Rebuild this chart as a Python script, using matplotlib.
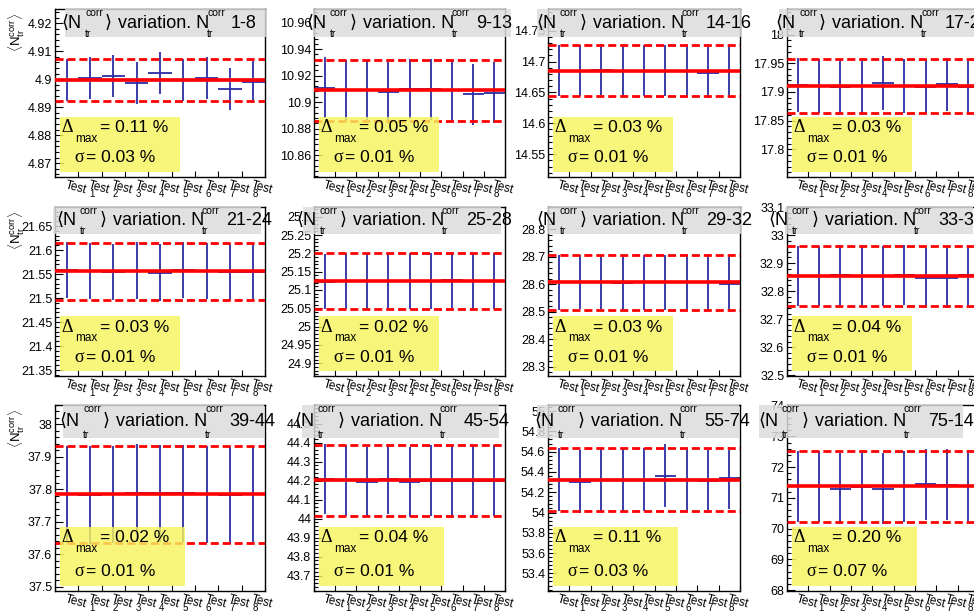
import numpy as np
import matplotlib
matplotlib.use('Agg')
import matplotlib.pyplot as plt
from matplotlib.patches import Rectangle
from matplotlib.ticker import MultipleLocator, AutoMinorLocator, FuncFormatter

plt.rcParams['font.family'] = ['Liberation Sans', 'DejaVu Sans']
plt.rcParams['mathtext.fontset'] = 'custom'
plt.rcParams['mathtext.rm'] = 'Liberation Sans'

# bins on the x axis
tests = ['Test', 'Test_1', 'Test_2', 'Test_3', 'Test_4', 'Test_5', 'Test_6', 'Test_7', 'Test_8']

# N_tr^corr ranges (one pad each)
ranges = ['1-8', '9-13', '14-16', '17-20', '21-24', '25-28',
          '29-32', '33-38', '39-44', '45-54', '55-74', '75-140']

# <N_tr^corr> per test
v_1_8 = [4.8998, 4.9005, 4.9010, 4.8988, 4.9021, 4.8998, 4.9003, 4.8966, 4.8989]
v_9_13 = [10.911, 10.9088, 10.909, 10.9073, 10.910, 10.9095, 10.9088, 10.9058, 10.907]
v_14_16 = [14.685, 14.685, 14.6866, 14.684, 14.685, 14.685, 14.685, 14.682, 14.684]
v_17_20 = [17.912, 17.911, 17.909, 17.910, 17.915, 17.911, 17.908, 17.913, 17.909]
v_21_24 = [21.558, 21.556, 21.554, 21.557, 21.553, 21.558, 21.556, 21.554, 21.555]
v_25_28 = [25.123, 25.125, 25.124, 25.124, 25.124, 25.125, 25.127, 25.124, 25.125]
v_29_32 = [28.607, 28.608, 28.608, 28.606, 28.607, 28.607, 28.607, 28.607, 28.601]
v_33_38 = [32.853, 32.853, 32.859, 32.853, 32.853, 32.859, 32.846, 32.847, 32.858]
v_39_44 = [37.785, 37.783, 37.785, 37.789, 37.788, 37.788, 37.785, 37.782, 37.785]
v_45_54 = [44.207, 44.201, 44.191, 44.208, 44.191, 44.200, 44.200, 44.200, 44.200]
v_55_74 = [54.325, 54.303, 54.325, 54.325, 54.325, 54.362, 54.325, 54.309, 54.340]
v_75_140 = [71.37, 71.37, 71.30, 71.35, 71.30, 71.37, 71.45, 71.42, 71.40]

means = [4.8998, 10.9088, 14.685, 17.911, 21.5554, 25.1245,
         28.607, 32.853, 37.785, 44.201, 54.325, 71.37]
errs = [0.0075, 0.0229, 0.041, 0.047, 0.059, 0.076,
        0.100, 0.107, 0.150, 0.185, 0.310, 1.155]
delta_max = ['0.11', '0.05', '0.03', '0.03', '0.03', '0.02',
             '0.03', '0.04', '0.02', '0.04', '0.11', '0.20']
sigma = ['0.03', '0.01', '0.01', '0.01', '0.01', '0.01',
         '0.01', '0.01', '0.01', '0.01', '0.03', '0.07']
ylims = [(4.8651, 4.9251), (10.8434, 10.9703), (14.513, 14.785), (17.7517, 18.0446),
         (21.3375, 21.6896), (24.865, 25.3265), (28.266, 28.881), (32.497, 33.10),
         (37.487, 38.06), (43.619, 44.598), (53.226, 55.06), (67.97, 74.02)]
steps = [0.01, 0.02, 0.05, 0.05, 0.05, 0.05, 0.1, 0.1, 0.1, 0.1, 0.2, 1.0]

values = [v_1_8, v_9_13, v_14_16, v_17_20, v_21_24, v_25_28,
          v_29_32, v_33_38, v_39_44, v_45_54, v_55_74, v_75_140]

# canvas layout in pixels
W, H = 974, 612
cols = [(55, 265), (314, 505), (548, 740), (787, 979)]
rows = [(9, 177), (207, 376), (405, 591)]
title_rows = [(9, 37), (207, 234), (405, 438)]
title_left = [65, 314, 537, 779, 53, 303, 547, 785, 63, 302, 537, 759]
title_var = [118, 363, 593, 832, 113, 353, 593, 825, 116, 351, 591, 815]

blue = '#2c2ca6'
red = '#ff0000'


def fx(x):
    return x / W


def fy(y):
    return 1 - y / H


def ftext(x, y, s, **kw):
    kw.setdefault('va', 'center')
    kw.setdefault('ha', 'left')
    kw.setdefault('zorder', 6)
    fig.text(fx(x), fy(y), s, **kw)


def fbox(l, t, r, b, color, alpha):
    rect = Rectangle((fx(l), fy(b)), (r - l) / W, (b - t) / H, transform=fig.transFigure,
                     facecolor=color, edgecolor='none', alpha=alpha, zorder=5)
    fig.add_artist(rect)


fig = plt.figure(figsize=(W / 100, H / 100), dpi=100)

x = np.arange(len(tests))
for k in range(12):
    ri, ci = divmod(k, 4)
    l, r = cols[ci]
    t, b = rows[ri]
    ax = fig.add_axes([fx(l), fy(b), (r - l) / W, (b - t) / H])

    ax.errorbar(x, values[k], xerr=0.5, yerr=errs[k], fmt='none',
                ecolor=blue, elinewidth=1.3, capsize=0, zorder=2)
    ax.axhline(means[k], color=red, lw=2.6, zorder=3)
    for s in (-1, 1):
        ax.axhline(means[k] + s * errs[k], color=red, lw=2.0,
                   dashes=(2.9, 1.4), zorder=3)

    ax.set_xlim(-0.5, len(tests) - 0.5)
    ax.set_ylim(*ylims[k])
    ax.yaxis.set_major_locator(MultipleLocator(steps[k]))
    ax.yaxis.set_minor_locator(AutoMinorLocator(5))
    ax.yaxis.set_major_formatter(FuncFormatter(
        lambda v, p: ('%.4f' % v).rstrip('0').rstrip('.')))
    ax.tick_params(axis='y', which='major', direction='in', length=6, width=0.8,
                   labelsize=9, pad=2)
    ax.tick_params(axis='y', which='minor', direction='in', length=3, width=0.8)
    ax.set_xticks(np.arange(-0.5, len(tests), 1))
    ax.set_xticklabels([])
    ax.tick_params(axis='x', direction='in', length=4, width=0.8)
    for sp in ax.spines.values():
        sp.set_linewidth(1.0)

    # bin labels: "Test" with its index underneath, tilted like the ROOT labels
    for i, name in enumerate(tests):
        parts = name.split('_')
        ax.annotate(parts[0], xy=(i, 0), xycoords=('data', 'axes fraction'),
                    xytext=(0, -2), textcoords='offset pixels', rotation=-15,
                    rotation_mode='anchor', ha='left', va='top', fontsize=8.5,
                    annotation_clip=False)
        if len(parts) > 1:
            ax.annotate(parts[1], xy=(i, 0), xycoords=('data', 'axes fraction'),
                        xytext=(-1, -12), textcoords='offset pixels',
                        ha='left', va='top', fontsize=7, annotation_clip=False)

    # title box
    tt, tb = title_rows[ri]
    v = title_var[k]
    fbox(title_left[k], tt, v + 148, tb, '#dcdcdc', 0.85)
    cy = (tt + tb) / 2
    ftext(v - 57, cy, '\u27e8N', fontsize=13)
    ftext(v - 33, tt + 4, 'corr', fontsize=7.5)
    ftext(v - 33, tb - 3, 'tr', fontsize=7.5)
    ftext(v - 13, cy, '\u27e9', fontsize=13)
    ftext(v, cy, 'variation. N', fontsize=13)
    ftext(v + 89, tt + 4, 'corr', fontsize=7.5)
    ftext(v + 89, tb - 3, 'tr', fontsize=7.5)
    ftext(v + 113, cy, ranges[k], fontsize=13)

    # yellow stats box
    bh = 59 if ri == 2 else 55
    bw = 125 if ri == 2 else 120
    bl = l + 5
    bt = b - 5 - bh
    fbox(bl, bt, bl + bw, bt + bh, '#f7f35e', 0.82)
    ftext(bl + 1, bt + 11, '\u0394', fontsize=13, family='Liberation Serif')
    ftext(bl + 15, bt + 22, 'max', fontsize=8.5)
    ftext(bl + 40, bt + 11, '= %s %%' % delta_max[k], fontsize=12.5)
    ftext(bl + 14, bt + bh - 14, '\u03c3', fontsize=13, family='Liberation Serif')
    ftext(bl + 26, bt + bh - 14, '= %s %%' % sigma[k], fontsize=12.5)

    if ci == 0:
        ftext(17, t + 4, r'$\langle \mathrm{N}_{\mathrm{tr}}^{\mathrm{corr}}\rangle$',
              rotation=90, va='top', ha='center', fontsize=9.5)

fig.savefig('out.png', dpi=100)
